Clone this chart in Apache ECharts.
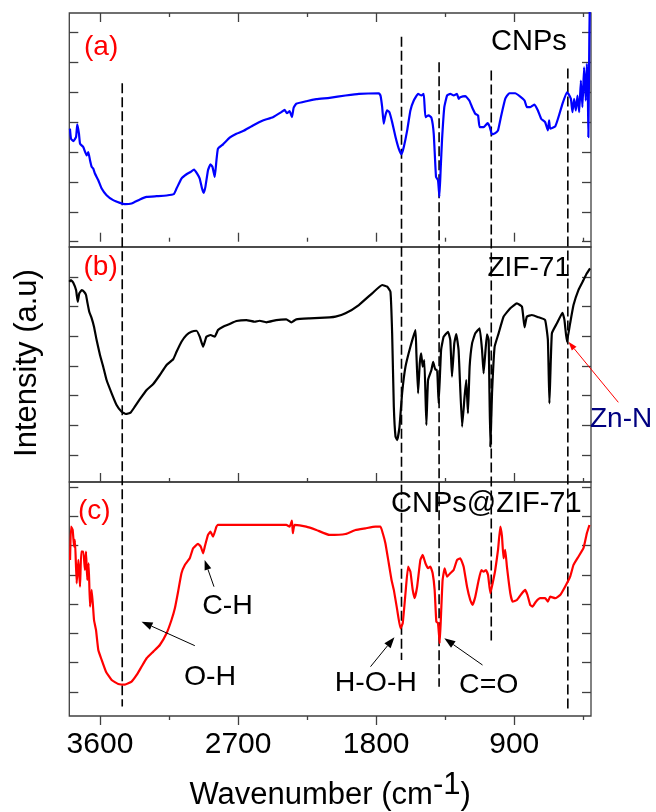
<!DOCTYPE html>
<html>
<head>
<meta charset="utf-8">
<script src="https://cdn.jsdelivr.net/npm/echarts@6/dist/echarts.min.js"></script>
<style>
  html, body { margin: 0; padding: 0; background: #fff; }
  #chart { width: 656px; height: 812px; }
</style>
</head>
<body>
<div id="chart"></div>
<script>
// FTIR spectra: wavenumber (cm-1) and intensity (a.u.) for each sample

// (a) CNPs
const cnpsWavenumber = [3796,3789,3774,3756,3748,3737,3730,3709,3687,3676,
  3665,3654,3644,3633,3611,3589,3557,3514,3470,3438,
  3394,3340,3296,3231,3166,3119,3101,3069,3036,3010,
  2987,2967,2950,2935,2924,2913,2896,2880,2867,2852,
  2841,2831,2798,2755,2711,2668,2603,2538,2473,2418,
  2397,2382,2364,2349,2338,2321,2255,2190,2104,2000,
  1913,1783,1772,1761,1751,1740,1729,1714,1696,1674,
  1653,1635,1620,1598,1577,1555,1527,1505,1490,1479,
  1458,1440,1425,1410,1397,1388,1380,1371,1356,1338,
  1317,1295,1273,1263,1252,1219,1193,1175,1154,1136,
  1126,1100,1074,1061,1045,1024,1006,985,959,933,
  894,861,833,818,796,768,746,725,699,681,
  673,666,633,612,586,557,547,531,521,510,
  499,488,477,466,456,445,434,427,421,417,
  411,408];
const cnpsIntensity = [113.4,103.4,101,105,117.7,108.4,98.4,95,86.7,90,
  81.7,75,73.4,68.4,61.7,53.4,46.7,41.7,39,37.7,
  38.4,42.4,45,45.7,46.4,47.7,53.4,63.4,67.7,70,
  72.4,68.4,63.4,53.4,49,55,71.7,77.7,75,65,
  81.7,93.4,97.7,104.4,108.4,111,116.7,121.7,125,130,
  132.4,129,131,125,134.4,138.4,141,143,144.4,146.7,
  148.4,149,146.7,135,118.4,126.7,131.7,130,120,105,
  93.4,87.7,95,111.7,131.7,141.7,148.4,146.7,148.4,125,
  126.7,124.4,108.4,65,61.7,45,71.7,101.7,135,146.7,
  148.4,146.7,148.4,143.4,145,146,141.7,135,128.4,126.7,
  115,115,119,115.7,107.7,109,111.7,126.7,143.4,149,
  149,145.7,141.7,135,135,137.7,131.7,123.4,120,111.7,
  121.7,113.4,115.7,125,138.4,150,148.4,143.4,130,143.4,
  131.7,146.7,130,161.7,135,175,141.7,178.4,155,105,
  201.7,237];

// (b) ZIF-71
const zifWavenumber = [3800,3789,3774,3756,3745,3735,3719,3704,3691,3683,
  3670,3654,3639,3622,3600,3579,3557,3524,3492,3459,
  3431,3401,3373,3340,3296,3253,3210,3166,3123,3101,
  3069,3036,3004,2971,2950,2928,2906,2880,2852,2831,
  2798,2755,2711,2646,2592,2559,2516,2451,2386,2353,
  2321,2234,2104,2065,2000,1913,1826,1761,1728,1707,
  1696,1685,1674,1663,1648,1631,1609,1577,1544,1538,
  1527,1516,1507,1497,1486,1473,1462,1440,1429,1414,
  1403,1393,1377,1360,1332,1317,1306,1291,1278,1263,
  1240,1224,1213,1202,1191,1175,1154,1126,1110,1100,
  1089,1078,1067,1056,1045,1028,1002,970,926,883,
  850,833,818,785,742,699,681,671,655,622,
  586,573,557,536,514,482,449,427,406];
const zifIntensity = [205,206.7,204,196.6,184.8,193.3,196.6,194.9,191.6,184.8,
  174.7,168,159.6,146.1,131,119.2,105.7,92.3,80.5,73.7,
  71.4,72.7,78.8,86.3,95.6,101.7,110.8,120.9,126.7,134.3,
  144.4,151.2,154.5,155.5,149.5,139.4,149.5,151.2,149.5,156.2,
  159.6,162.3,165.3,166.3,164.6,165.6,164,166.3,167,164,
  167,168,169,169.7,173.1,181.5,193.3,201.7,200,194.9,
  152.9,78.8,48.5,45.1,58.6,92.3,119.2,139.4,156.2,132.7,
  92.3,122.6,132.7,119.2,125.9,60.3,105.7,115.8,124.2,116.1,
  116.1,82.2,136,149.5,154.5,146.1,109.1,142.8,152.2,136,
  58.6,88.9,105.7,72.1,119.2,142.8,152.9,158,136,112.5,
  132.7,151.9,146.1,38.4,92.3,139.4,152.9,169.7,178.2,183.2,
  179.8,159,169.7,171.4,169.1,166.3,146.1,82.2,152.9,163,
  173.7,166.3,144.4,163,181.5,196.6,206.7,213.5,218.6];

// (c) CNPs@ZIF-71
const compositeWavenumber = [3795,3789,3778,3769,3763,3752,3741,3730,3722,3709,
  3698,3691,3683,3674,3665,3654,3639,3626,3611,3589,
  3561,3524,3481,3438,3394,3361,3329,3296,3253,3210,
  3166,3134,3112,3091,3069,3047,3015,2993,2961,2943,
  2928,2917,2896,2880,2863,2841,2831,2733,2516,2386,
  2364,2349,2343,2332,2256,2190,2104,2000,1935,1870,
  1805,1772,1757,1740,1718,1700,1685,1663,1642,1627,
  1609,1592,1577,1562,1549,1533,1512,1497,1479,1462,
  1447,1432,1419,1408,1397,1386,1377,1367,1354,1338,
  1317,1295,1273,1252,1230,1208,1187,1172,1154,1132,
  1115,1100,1084,1071,1056,1041,1024,1006,991,980,
  970,959,948,926,911,883,850,829,814,796,
  781,759,731,699,681,666,633,601,569,536,
  514,482,449,427,410];
const compositeIntensity = [165.2,199.3,195.9,178.8,185.7,141.3,165.2,137.8,173.7,173.7,
  154.9,173.7,144.7,161.8,117.4,134.5,103.7,93.5,73,62.8,
  50.8,42.3,38.2,37.5,40.6,47.4,55.9,64.5,71.3,78.1,
  90.1,103.7,115.7,132.7,151.6,160.1,166.9,177.2,181.6,178.8,
  172,178.8,190.8,194.2,189,199.3,201,201,201,201,
  199.3,205.4,192.5,201,199.3,195.9,190.8,191.8,195.9,197.6,
  199.3,199.3,192.5,182.3,161.8,144.7,134.5,114,95.2,100.4,
  131.1,158.3,153.2,134.5,126,137.8,165.2,170.3,161.8,156.7,
  158.3,151.6,134.5,102,100.4,79.9,110.6,144.7,156.7,148.1,
  151.6,154.9,165.2,166.9,158.3,137.8,124.2,119.1,127.6,144.7,
  154.9,153.2,154.9,149.8,131.1,141.3,154.9,175.4,199.3,189,
  166.9,175.4,158.3,131.1,122.5,124.2,131.1,134.5,129.3,119.1,
  117.4,122.5,126,126,122.5,127.6,126,129.3,137.8,148.1,
  160.1,168.5,177.2,192.5,201];

// Axis ticks
const xMajorTicks = [900, 1800, 2700, 3600];
const xMinorTicks = [450, 1350, 2250, 3150];
const yTicksA = [0, 30, 60, 90, 120, 150, 180, 210];
const yTicksB = [30, 60, 90, 120, 150, 180, 210];
const yTicksC = [30, 60, 90, 120, 150, 180, 210, 240];

// Band positions marked by dashed guides (cm-1)
const bandWavenumbers = [3455, 1635, 1390, 1050, 551];

// ---------------------------------------------------------------------------
const FONT = '"Liberation Sans", Arial, Helvetica, sans-serif';
const FRAME = '#404040';
const PLOT_LEFT = 69.3, PLOT_WIDTH = 521.7;

const panels = [
  { top: 13,  height: 234, yMin: -5.3, yMax: 229.5, ticks: yTicksA, color: '#0000ff', wn: cnpsWavenumber, val: cnpsIntensity },
  { top: 247, height: 235, yMin: 2.7,  yMax: 240.1, ticks: yTicksB, color: '#000000', wn: zifWavenumber, val: zifIntensity },
  { top: 482, height: 234, yMin: 5.4,  yMax: 245.0, ticks: yTicksC, color: '#ff0000', wn: compositeWavenumber, val: compositeIntensity }
];

const grids = panels.map(p => ({
  left: PLOT_LEFT, width: PLOT_WIDTH, top: p.top, height: p.height,
  show: true, borderColor: FRAME, borderWidth: 1.3, backgroundColor: 'transparent'
}));

function xAxisDef(gridIndex, position, ticks, length, inside, showLabels) {
  return {
    type: 'value', gridIndex, position, min: 400, max: 3800, inverse: true,
    axisLine: { show: false }, splitLine: { show: false },
    axisTick: { show: true, inside, length, customValues: ticks, lineStyle: { color: FRAME, width: 1.3 } },
    axisLabel: {
      show: showLabels, customValues: ticks, margin: 14,
      formatter: v => String(v),
      fontSize: 30, fontFamily: FONT, color: '#000'
    }
  };
}

const xAxes = [
  xAxisDef(0, 'bottom', xMajorTicks, 9, true, false),
  xAxisDef(0, 'bottom', xMinorTicks, 4, true, false),
  xAxisDef(0, 'top', xMajorTicks, 9, true, false),
  xAxisDef(0, 'top', xMinorTicks, 4, true, false),
  xAxisDef(1, 'bottom', xMajorTicks, 9, true, false),
  xAxisDef(1, 'bottom', xMinorTicks, 4, true, false),
  xAxisDef(2, 'bottom', xMajorTicks, 9, false, true),
  xAxisDef(2, 'bottom', xMinorTicks, 4, false, false)
];

const yAxes = [];
panels.forEach((p, i) => {
  ['left', 'right'].forEach(pos => {
    yAxes.push({
      type: 'value', gridIndex: i, position: pos, min: p.yMin, max: p.yMax,
      axisLine: { show: false }, splitLine: { show: false },
      axisLabel: { show: false },
      axisTick: { show: true, inside: true, length: 9, customValues: p.ticks, lineStyle: { color: FRAME, width: 1.3 } }
    });
  });
});

const seriesXAxis = [0, 4, 6];
const series = panels.map((p, i) => ({
  type: 'line', xAxisIndex: seriesXAxis[i], yAxisIndex: i * 2,
  data: p.wn.map((w, k) => [w, p.val[k]]),
  symbol: 'none', showSymbol: false, clip: true, z: 3,
  smooth: 0.12,
  lineStyle: { color: p.color, width: 2.2, join: 'round' },
  itemStyle: { color: p.color },
  animation: false, silent: true
}));

const chart = echarts.init(document.getElementById('chart'), null, { renderer: 'canvas', width: 656, height: 812 });
chart.setOption({
  animation: false,
  backgroundColor: '#ffffff',
  grid: grids,
  xAxis: xAxes,
  yAxis: yAxes,
  series
});

// ---- overlays: dashed band guides, arrows, labels ----
const guideTop = [159, 205.7, 180, 171.7, 173.7];   // extent in panel (a) units
const guideBottom = [15, 62.8, 35.4, 80.2, 11.6];   // extent in panel (c) units

const arrows = [
  { series: 2, from: [2982, 77.4], to: [3329, 102], color: '#000', head: 11, half: 4 },
  { series: 2, from: [2857, 137.8], to: [2918, 165.2], color: '#000', head: 10, half: 3.5 },
  { series: 2, from: [1837, 55.9], to: [1681, 86], color: '#000', head: 11, half: 4 },
  { series: 2, from: [1107, 57.6], to: [1356, 85], color: '#000', head: 11, half: 4 },
  { series: 1, from: [222, 83.2], to: [547, 144.4], color: '#ff0000', head: 9, half: 3 }
];

const texts = [
  { text: '(a)', x: 84, y: 47.4, size: 28, color: '#ff0000', align: 'left' },
  { text: '(b)', x: 83.5, y: 267.4, size: 28, color: '#ff0000', align: 'left' },
  { text: '(c)', x: 78, y: 511, size: 28, color: '#ff0000', align: 'left' },
  { text: 'CNPs', x: 491, y: 41.7, size: 29, color: '#000', align: 'left' },
  { text: 'ZIF-71', x: 487.5, y: 268, size: 28, color: '#000', align: 'left' },
  { text: 'CNPs@ZIF-71', x: 391, y: 504, size: 29, color: '#000', align: 'left' },
  { text: 'Zn-N', x: 590, y: 419, size: 28, color: '#000080', align: 'left' },
  { text: 'O-H', x: 210, y: 676.7, size: 28.5, color: '#000', align: 'center' },
  { text: 'C-H', x: 227.5, y: 605.8, size: 28.5, color: '#000', align: 'center' },
  { text: 'H-O-H', x: 375.8, y: 683.3, size: 28.5, color: '#000', align: 'center' },
  { text: 'C=O', x: 488.8, y: 685, size: 28.5, color: '#000', align: 'center' }
];

const graphics = [];

bandWavenumbers.forEach((wn, i) => {
  const p1 = chart.convertToPixel({ seriesIndex: 0 }, [wn, guideTop[i]]);
  const p2 = chart.convertToPixel({ seriesIndex: 2 }, [wn, guideBottom[i]]);
  graphics.push({
    type: 'line', silent: true, z: 1,
    shape: { x1: p1[0], y1: p1[1], x2: p2[0], y2: p2[1] },
    style: { stroke: '#000', lineWidth: 1.6, lineDash: [10, 4] }
  });
});

arrows.forEach(a => {
  const p1 = chart.convertToPixel({ seriesIndex: a.series }, a.from);
  const p2 = chart.convertToPixel({ seriesIndex: a.series }, a.to);
  const dx = p2[0] - p1[0], dy = p2[1] - p1[1];
  const len = Math.hypot(dx, dy);
  const ux = dx / len, uy = dy / len;
  const bx = p2[0] - ux * a.head, by = p2[1] - uy * a.head;
  graphics.push({
    type: 'line', silent: true, z: 10,
    shape: { x1: p1[0], y1: p1[1], x2: bx, y2: by },
    style: { stroke: a.color, lineWidth: 1 }
  });
  graphics.push({
    type: 'polygon', silent: true, z: 10,
    shape: { points: [[p2[0], p2[1]], [bx - uy * a.half, by + ux * a.half], [bx + uy * a.half, by - ux * a.half]] },
    style: { fill: a.color }
  });
});

texts.forEach(t => {
  graphics.push({
    type: 'text', silent: true, z: 20, x: t.x, y: t.y,
    style: { text: t.text, fontSize: t.size, fontFamily: FONT, fill: t.color, align: t.align, verticalAlign: 'middle' }
  });
});

// Axis titles
graphics.push({
  type: 'text', silent: true, z: 20, x: 27, y: 363, rotation: Math.PI / 2,
  style: { text: 'Intensity (a.u)', fontSize: 31, fontFamily: FONT, fill: '#000', align: 'center', verticalAlign: 'middle' }
});

const ctx = document.createElement('canvas').getContext('2d');
ctx.font = '31px ' + FONT;
const partMain = 'Wavenumber (cm', partSup = '-1', partEnd = ')';
const wMain = ctx.measureText(partMain).width;
const wSup = ctx.measureText(partSup).width;
const wEnd = ctx.measureText(partEnd).width;
const titleLeft = PLOT_LEFT + PLOT_WIDTH / 2 - (wMain + wSup + wEnd) / 2;
const titleY = 795.8;
[[partMain, titleLeft, titleY], [partSup, titleLeft + wMain, titleY - 10], [partEnd, titleLeft + wMain + wSup, titleY]].forEach(([s, x, y]) => {
  graphics.push({
    type: 'text', silent: true, z: 20, x, y,
    style: { text: s, fontSize: 31, fontFamily: FONT, fill: '#000', align: 'left', verticalAlign: 'middle' }
  });
});

chart.setOption({ graphic: graphics });
</script>
</body>
</html>
